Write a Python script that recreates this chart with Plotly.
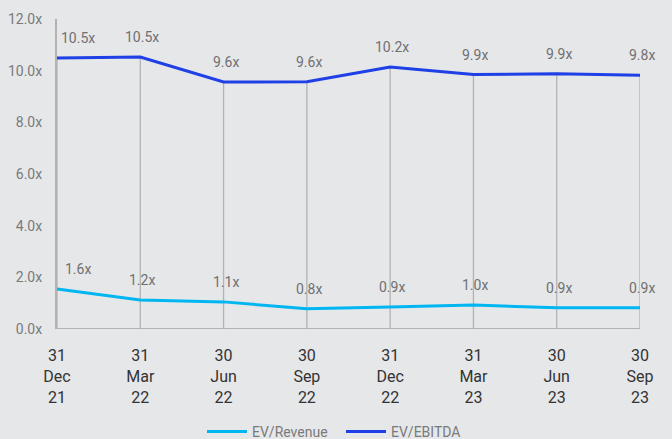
import plotly.graph_objects as go

categories = ["31<br>Dec<br>21", "31<br>Mar<br>22", "30<br>Jun<br>22", "30<br>Sep<br>22",
              "31<br>Dec<br>22", "31<br>Mar<br>23", "30<br>Jun<br>23", "30<br>Sep<br>23"]
ev_revenue = [1.55, 1.12, 1.05, 0.78, 0.85, 0.93, 0.82, 0.82]
ev_revenue_labels = ["1.6x", "1.2x", "1.1x", "0.8x", "0.9x", "1.0x", "0.9x", "0.9x"]
ev_ebitda = [10.49, 10.53, 9.56, 9.57, 10.14, 9.85, 9.88, 9.82]
ev_ebitda_labels = ["10.5x", "10.5x", "9.6x", "9.6x", "10.2x", "9.9x", "9.9x", "9.8x"]

xs = list(range(len(categories)))
FONT = "Roboto, Arial, sans-serif"

fig = go.Figure()

# drop lines from EV/EBITDA points to the baseline
dx, dy = [], []
for x, v in zip(xs, ev_ebitda):
    dx += [x, x, None]
    dy += [0, v, None]
fig.add_trace(go.Scatter(x=dx, y=dy, mode="lines", line=dict(color="#b3b3b3", width=1.3),
                         showlegend=False, hoverinfo="skip"))

fig.add_trace(go.Scatter(x=xs, y=ev_revenue, mode="lines", name="EV/Revenue",
                         line=dict(color="#00B6F1", width=3)))
fig.add_trace(go.Scatter(x=xs, y=ev_ebitda, mode="lines", name="EV/EBITDA",
                         line=dict(color="#1F40E6", width=3)))

annotations = []
for vals, labs in ((ev_revenue, ev_revenue_labels), (ev_ebitda, ev_ebitda_labels)):
    for i, (x, v, t) in enumerate(zip(xs, vals, labs)):
        annotations.append(dict(x=x, y=v, text=t, showarrow=False, xref="x", yref="y",
                                yshift=20, xshift=(21 if i == 0 else 2),
                                font=dict(family=FONT, size=14, color="#707070")))

fig.update_layout(
    width=672, height=439,
    margin=dict(l=57, r=32, t=19, b=110, autoexpand=False),
    paper_bgcolor="#E6E7E9", plot_bgcolor="#E6E7E9",
    font=dict(family=FONT),
    annotations=annotations,
    showlegend=True,
    legend=dict(orientation="h", x=(202 - 57) / 583, xanchor="left", xref="paper",
                y=0.016, yref="container", yanchor="middle", entrywidth=84,
                font=dict(size=14, color="#7a7a7a"), itemwidth=40),
    xaxis=dict(range=[0, 7], tickvals=xs, ticktext=categories, showgrid=False,
               zeroline=False, showline=False, ticks="", ticklabelstandoff=15,
               automargin=False,
               tickfont=dict(size=16, color="#333333")),
    yaxis=dict(range=[0, 12], dtick=2, tickformat=".1f", ticksuffix="x",
               showgrid=False, zeroline=False, showline=True, linecolor="#b3b3b3",
               linewidth=2, ticks="", ticklabelstandoff=10, automargin=False,
               tickfont=dict(size=14, color="#7a7a7a")),
)
fig.add_shape(type="line", xref="paper", yref="y", x0=0, x1=1, y0=0, y1=0,
              line=dict(color="#b3b3b3", width=2), layer="below")

fig.write_html("out.html")
